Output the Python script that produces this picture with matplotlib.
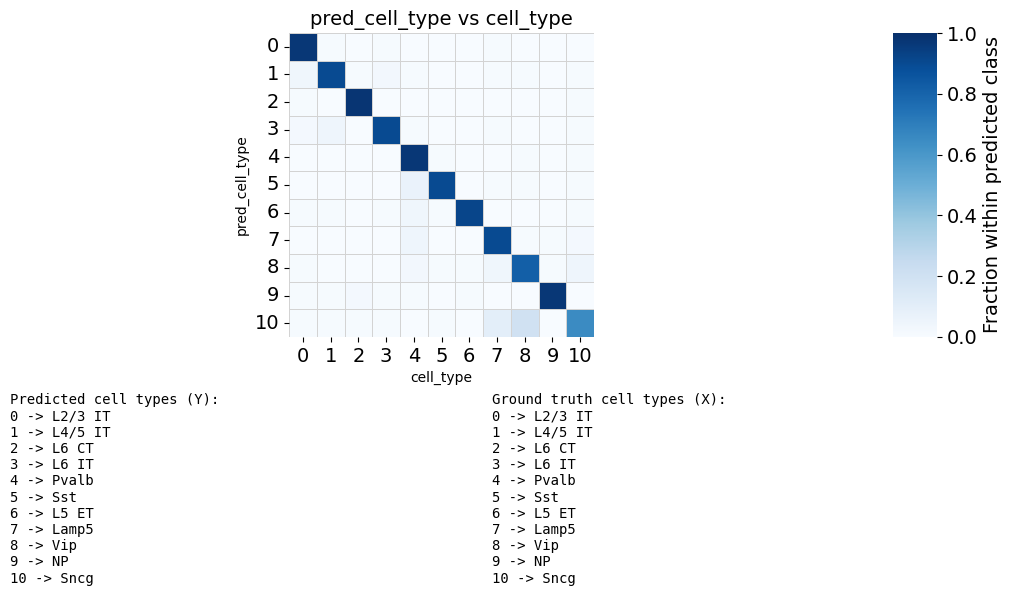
import numpy as np
import matplotlib
matplotlib.use("Agg")
import matplotlib.pyplot as plt
import seaborn as sns

labels = [str(i) for i in range(11)]
cell_names = ["L2/3 IT", "L4/5 IT", "L6 CT", "L6 IT", "Pvalb", "Sst",
              "L5 ET", "Lamp5", "Vip", "NP", "Sncg"]

# row = predicted class, column = ground truth; fraction within predicted class
row0 = [0.97, 0.01, 0.00, 0.01, 0.00, 0.00, 0.00, 0.01, 0.00, 0.00, 0.00]
row1 = [0.04, 0.90, 0.01, 0.03, 0.01, 0.00, 0.00, 0.01, 0.01, 0.00, 0.01]
row2 = [0.01, 0.00, 0.98, 0.00, 0.00, 0.00, 0.00, 0.00, 0.00, 0.00, 0.01]
row3 = [0.02, 0.05, 0.00, 0.90, 0.01, 0.00, 0.00, 0.01, 0.00, 0.00, 0.01]
row4 = [0.00, 0.00, 0.00, 0.00, 0.97, 0.01, 0.00, 0.00, 0.01, 0.00, 0.01]
row5 = [0.00, 0.00, 0.00, 0.00, 0.07, 0.90, 0.00, 0.01, 0.01, 0.00, 0.01]
row6 = [0.01, 0.01, 0.00, 0.01, 0.04, 0.01, 0.92, 0.00, 0.00, 0.00, 0.01]
row7 = [0.00, 0.00, 0.00, 0.00, 0.05, 0.00, 0.00, 0.90, 0.01, 0.01, 0.02]
row8 = [0.01, 0.00, 0.00, 0.00, 0.03, 0.01, 0.01, 0.04, 0.82, 0.01, 0.05]
row9 = [0.01, 0.01, 0.02, 0.01, 0.01, 0.00, 0.01, 0.00, 0.00, 0.97, 0.00]
row10 = [0.01, 0.01, 0.01, 0.01, 0.00, 0.01, 0.00, 0.10, 0.20, 0.00, 0.65]

matrix = np.array([row0, row1, row2, row3, row4, row5, row6,
                   row7, row8, row9, row10])

fig = plt.figure(figsize=(10.11, 5.96), dpi=100)
ax = fig.add_axes([0.2859, 0.4346, 0.3017, 0.5100])
cax = fig.add_axes([0.8833, 0.4346, 0.0435, 0.5100])

sns.heatmap(matrix, ax=ax, cbar_ax=cax, cmap="Blues", vmin=0, vmax=1,
            linewidths=0.5, linecolor="#d3d3d3",
            xticklabels=labels, yticklabels=labels)

ax.set_title("pred_cell_type vs cell_type", fontsize=14)
ax.set_xlabel("cell_type", fontsize=10)
ax.set_ylabel("pred_cell_type", fontsize=10)
ax.tick_params(axis="both", labelsize=14)
plt.setp(ax.get_yticklabels(), rotation=0)
plt.setp(ax.get_xticklabels(), rotation=0)

cax.tick_params(labelsize=14)
cax.set_yticks([0.0, 0.2, 0.4, 0.6, 0.8, 1.0])
cax.set_ylabel("Fraction within predicted class", fontsize=14)

pred_text = "Predicted cell types (Y):\n" + "\n".join(
    f"{i} -> {n}" for i, n in enumerate(cell_names))
true_text = "Ground truth cell types (X):\n" + "\n".join(
    f"{i} -> {n}" for i, n in enumerate(cell_names))

fig.text(0.0099, 0.340, pred_text, family="DejaVu Sans Mono", fontsize=10,
         va="top", ha="left", linespacing=1.2)
fig.text(0.4866, 0.340, true_text, family="DejaVu Sans Mono", fontsize=10,
         va="top", ha="left", linespacing=1.2)

fig.savefig("out.png", dpi=100)
